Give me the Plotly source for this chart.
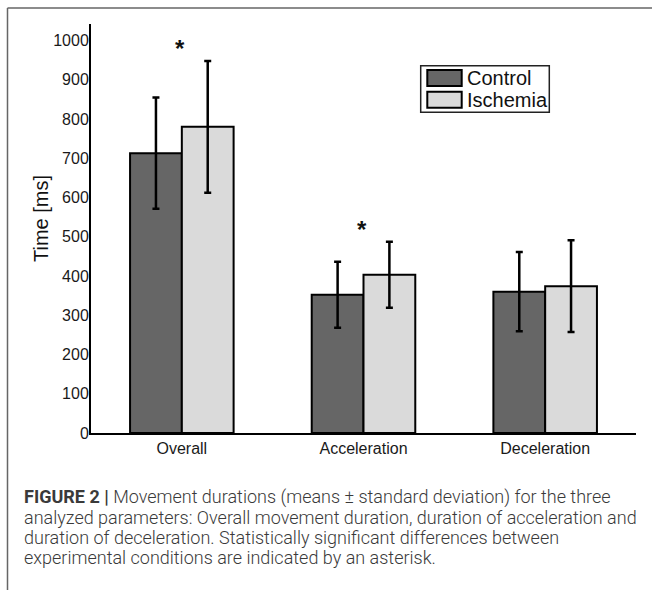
import plotly.graph_objects as go

categories = ["Overall", "Acceleration", "Deceleration"]
control_mean = [713, 352, 360]
control_sd = [142, 84, 101]
ischemia_mean = [780, 403, 374]
ischemia_sd = [168, 84, 117]
significant = [True, True, False]
y_ticks = list(range(0, 1001, 100))

caption_lines = [
    "<b>FIGURE 2 |</b> Movement durations (means \u00b1 standard deviation) for the three",
    "analyzed parameters: Overall movement duration, duration of acceleration and",
    "duration of deceleration. Statistically significant differences between",
    "experimental conditions are indicated by an asterisk.",
]

W_FIG, H_FIG = 652, 590
L, R, T, B = 91, 16, 24, 157
PW = W_FIG - L - R
PH = H_FIG - T - B


def xp(px):
    return (px - L) / PW


def yp(py):
    return (H_FIG - B - py) / PH


fig = go.Figure()
fig.add_trace(go.Bar(
    x=categories, y=control_mean, name="Control",
    marker=dict(color="#666666", line=dict(color="black", width=2)),
    error_y=dict(type="data", array=control_sd, color="black", thickness=2.5, width=3.5),
    showlegend=False,
))
fig.add_trace(go.Bar(
    x=categories, y=ischemia_mean, name="Ischemia",
    marker=dict(color="#dadada", line=dict(color="black", width=2)),
    error_y=dict(type="data", array=ischemia_sd, color="black", thickness=2.5, width=3.5),
    showlegend=False,
))

annotations = []
for i, c in enumerate(categories):
    if significant[i]:
        top = max(control_mean[i] + control_sd[i], ischemia_mean[i] + ischemia_sd[i])
        annotations.append(dict(
            x=c, y=top + 45, xref="x", yref="y", text="<b>*</b>", showarrow=False,
            font=dict(family="Liberation Sans", size=24, color="#111"),
            xshift=-2, yshift=-5, yanchor="middle",
        ))

# y-axis title
annotations.append(dict(
    x=xp(41), y=yp(219), xref="paper", yref="paper", text="Time [ms]",
    textangle=-90, showarrow=False, xanchor="center", yanchor="middle",
    font=dict(family="Liberation Sans", size=20, color="#111"),
))

# legend (custom)
shapes = []
shapes.append(dict(type="rect", xref="paper", yref="paper",
                   x0=xp(420.7), x1=xp(549.3), y0=yp(112.3), y1=yp(65.7),
                   line=dict(color="#222", width=1.5), fillcolor="white"))
legend_items = [("Control", "#666666", 70, 86, 77.5), ("Ischemia", "#dadada", 91.7, 107.7, 99.5)]
for name, col, y0, y1, ytxt in legend_items:
    shapes.append(dict(type="rect", xref="paper", yref="paper",
                       x0=xp(427.3), x1=xp(461.7), y0=yp(y1), y1=yp(y0),
                       line=dict(color="black", width=2), fillcolor=col))
    annotations.append(dict(
        x=xp(465), y=yp(ytxt), xref="paper", yref="paper", text=name,
        showarrow=False, xanchor="left", yanchor="middle",
        font=dict(family="Liberation Sans", size=20, color="#111"),
    ))

# frame lines
shapes.append(dict(type="line", xref="paper", yref="paper",
                   x0=xp(7.5), x1=xp(652), y0=yp(8), y1=yp(8),
                   line=dict(color="#666", width=1.5)))
shapes.append(dict(type="line", xref="paper", yref="paper",
                   x0=xp(7.5), x1=xp(7.5), y0=yp(8), y1=yp(590),
                   line=dict(color="#666", width=1.5)))

# caption
for k, line in enumerate(caption_lines):
    annotations.append(dict(
        x=xp(22), y=yp(497 + 20 * k), xref="paper", yref="paper", text=line,
        showarrow=False, xanchor="left", yanchor="middle", align="left",
        font=dict(family="Roboto", size=18, color="#3a3a3a", weight=300),
    ))

fig.update_layout(
    width=W_FIG, height=H_FIG, autosize=False,
    margin=dict(l=L, r=R, t=T, b=B, pad=0),
    plot_bgcolor="white", paper_bgcolor="white",
    barmode="group", bargap=0.43, bargroupgap=0,
    font=dict(family="Liberation Sans", size=16, color="#1a1a1a"),
    xaxis=dict(range=[-0.5, 2.5], showline=True, linecolor="black", linewidth=2,
               ticks="", showgrid=False, zeroline=False,
               tickfont=dict(size=16, color="#1a1a1a")),
    yaxis=dict(range=[0, 1042], tickvals=y_ticks, showline=True, linecolor="black",
               linewidth=2, ticks="", showgrid=False, zeroline=False,
               tickfont=dict(size=16, color="#1a1a1a"), ticklabelstandoff=-3),
    annotations=annotations, shapes=shapes,
)

fig.write_html("out.html")
